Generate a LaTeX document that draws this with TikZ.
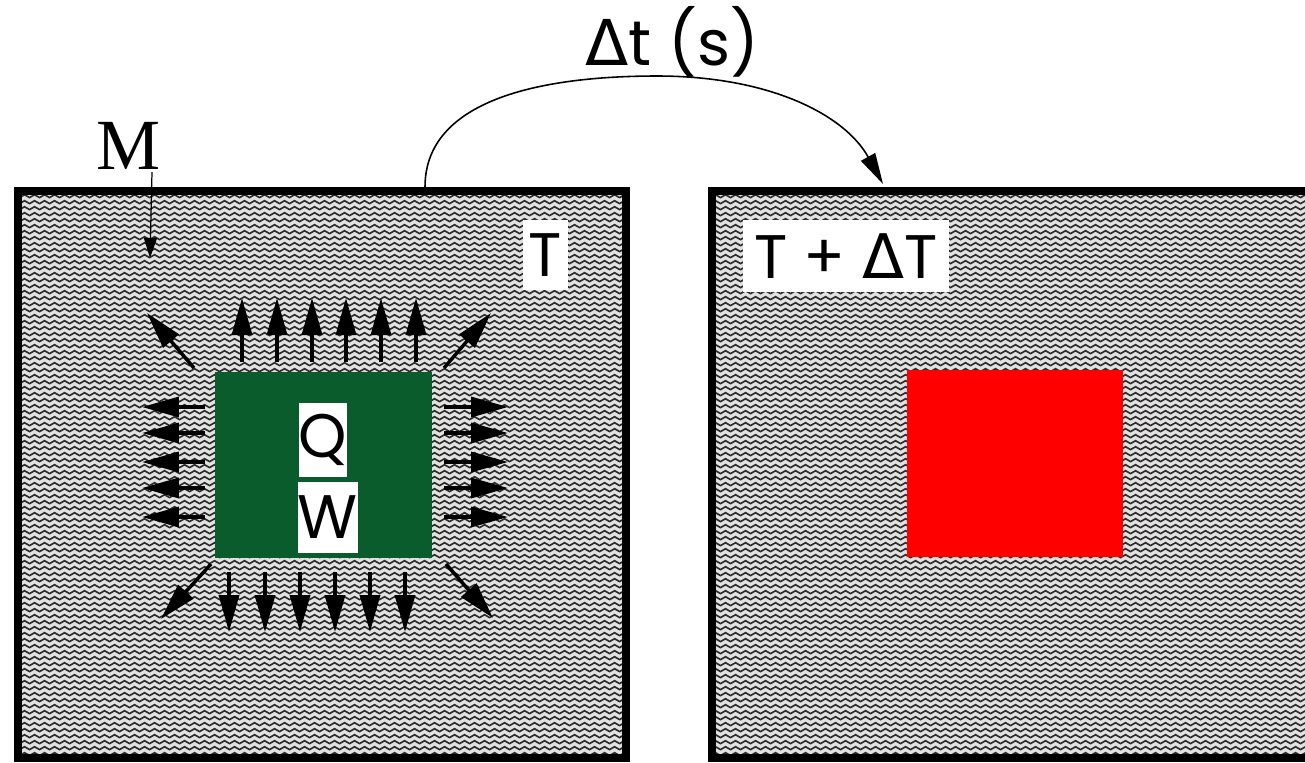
\documentclass[tikz,border=0pt]{standalone}
\usepackage{fontspec}
\setmainfont{Poppins}
\newfontfamily\dfont{DejaVu Sans}
\newfontfamily\mfont{Liberation Serif}
\usetikzlibrary{arrows.meta,patterns}
\pgfdeclarepatternformonly{waves}{\pgfpointorigin}{\pgfpoint{5.7pt}{3.6pt}}{\pgfpoint{5.7pt}{3.6pt}}{%
  \pgfsetlinewidth{1.05pt}%
  \pgfpathmoveto{\pgfpoint{-0.5pt}{0.75pt}}%
  \pgfpathlineto{\pgfpoint{2.85pt}{2.7pt}}%
  \pgfpathlineto{\pgfpoint{6.2pt}{0.75pt}}%
  \pgfusepath{stroke}}
\definecolor{srcgreen}{HTML}{0A5C2C}
\definecolor{wavebg}{HTML}{E2E2E2}
\definecolor{wavefg}{HTML}{2E2E2E}
\begin{document}
\begin{tikzpicture}[x=0.02cm,y=-0.02cm,
  panel/.style={draw=black, line width=0.16cm, inner sep=0pt, outer sep=0pt,
    preaction={fill=wavebg}, pattern=waves, pattern color=wavefg},
  lab/.style={fill=white, inner sep=0pt, font=\fontsize{35}{40}\selectfont},
  block/.style={inner sep=0pt, outer sep=0pt},
  heat/.style={line width=0.07cm, -{Triangle[length=0.74cm,width=0.4cm]}},
  marrow/.style={line width=0.7pt, -{Triangle[length=0.4cm,width=0.26cm]}},
  carrow/.style={line width=0.9pt, -{Triangle[length=0.62cm,width=0.32cm]}}]
\useasboundingbox (0,0) rectangle (1305,762);
\clip (0,0) rectangle (1305,762);
% panels
\node[panel, minimum width=12.16cm, minimum height=11.34cm] (left) at (322,474.5) {};
\node[panel, minimum width=12.36cm, minimum height=11.34cm] (right) at (1021,474.5) {};
% blocks
\node[block, fill=srcgreen, minimum width=4.34cm, minimum height=3.72cm] (src) at (323.5,465) {};
\node[block, fill=red, minimum width=4.32cm, minimum height=3.74cm] (hot) at (1015,463.5) {};
% labels
\node[lab, minimum width=0.9cm, minimum height=1.4cm] (tl) at (545,255) {T};
\node[lab, minimum width=4.14cm, minimum height=1.44cm] (tdl) at (846,256) {T + {\dfont Δ}T};
\node[lab, minimum width=0.88cm, minimum height=1.48cm] (q) at (323,440) {Q};
\node[lab, minimum width=1.2cm, minimum height=1.42cm] (w) at (328,517.5) {W};
\node[font=\mfont\fontsize{41}{44}\selectfont, inner sep=0pt] (m) at (129,146) {M};
\node[font=\fontsize{36}{40}\selectfont, inner sep=0pt] (dt) at (672,42) {{\dfont Δ}t (s)};
% M arrow
\coordinate (mstart) at (152,172);
\coordinate (mtip) at (150,258);
\draw[marrow] (mstart) -- (mtip);
% time arrow
\coordinate (cs) at (425,187);
\coordinate (ce) at (883,184);
\draw[carrow] (cs) .. controls (425,100) and (540,76) .. (657,76) .. controls (770,76) and (845,115) .. (ce);
% heat arrows
\foreach \x in {242,277,312,346,381,416} \draw[heat] (\x,362) -- (\x,298);
\foreach \x in {229,265,300,335,370,405} \draw[heat] (\x,572) -- (\x,632);
\foreach \y in {407,433,462,488,517} {
  \draw[heat] (205,\y) -- (142,\y);
  \draw[heat] (444,\y) -- (508,\y);
}
\draw[heat] (194,368) -- (147,313);
\draw[heat] (444,368) -- (491,313);
\draw[heat] (211,564) -- (161,619);
\draw[heat] (446,564) -- (493,618);
\end{tikzpicture}
\end{document}
